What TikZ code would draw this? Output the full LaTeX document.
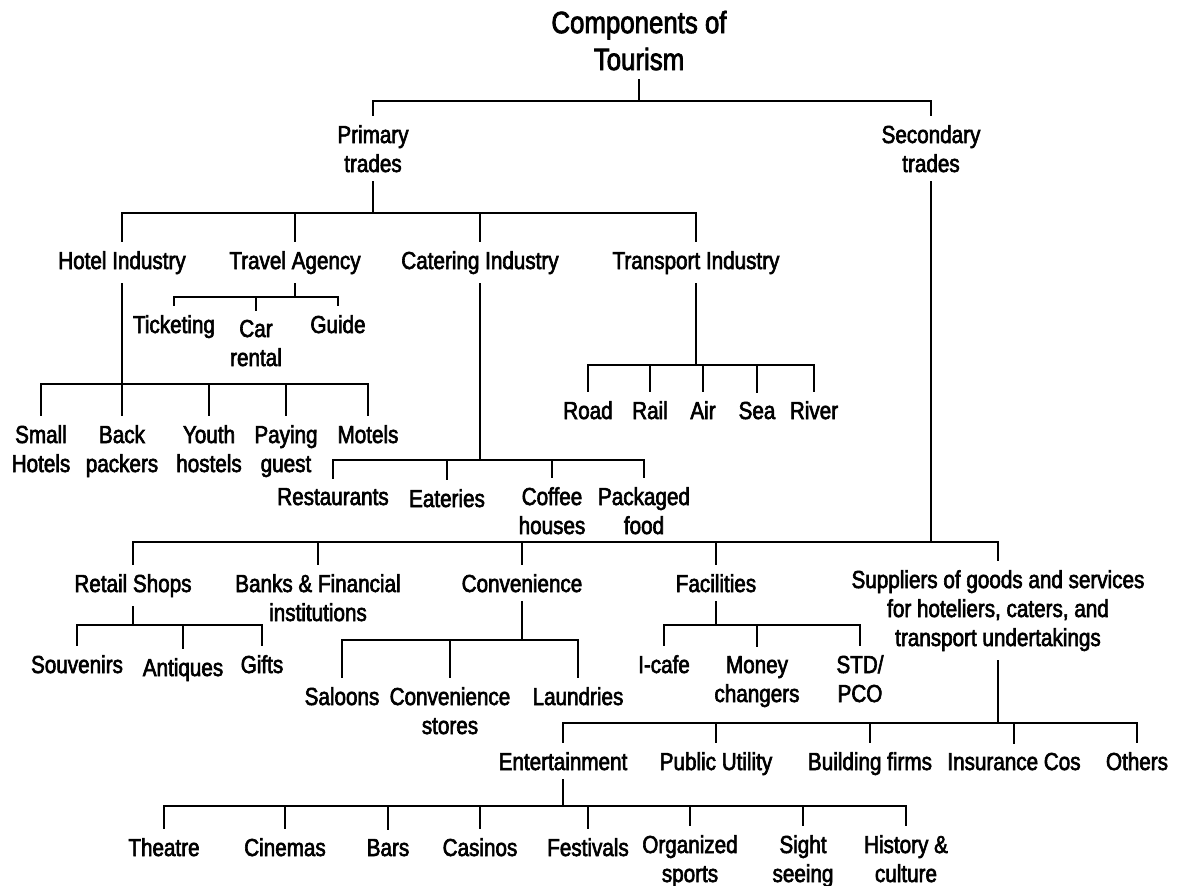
\documentclass[tikz,border=0pt]{standalone}
\usepackage{fontspec}
\setmainfont{Liberation Sans}[FakeStretch=0.84, FakeBold=2.5]
\usetikzlibrary{calc}

\tikzset{
  item/.style={anchor=base, align=center, inner xsep=1pt, inner ysep=5pt, font=\fontsize{14}{16.5}\selectfont},
  conn/.style={line width=0.7pt},
  heavyconn/.style={line width=1.2pt},
}

\begin{document}
\begin{tikzpicture}[x=0.02cm, y=-0.02cm]
\useasboundingbox (0,0) rectangle (1178,886);

% title and the two trades (y = baseline of the last line)
\node[item, font=\fontsize{17.5}{21}\selectfont] (title) at (639,70) {Components of\\Tourism};
\node[item] (prim) at (373,172) {Primary\\trades};
\node[item] (sec) at (931,172) {Secondary\\trades};

% primary trades
\node[item] (hotel) at (122,269) {Hotel Industry};
\node[item] (travel) at (295,269) {Travel Agency};
\node[item] (cater) at (480,269) {Catering Industry};
\node[item] (transport) at (696,269) {Transport Industry};

\node[item] (ticket) at (174,333) {Ticketing};
\node[item] (carrent) at (256,366) {Car\\rental};
\node[item] (guide) at (338,333) {Guide};

\node[item] (small) at (41,472) {Small\\Hotels};
\node[item] (back) at (122,472) {Back\\packers};
\node[item] (youth) at (209,472) {Youth\\hostels};
\node[item] (paying) at (286,472) {Paying\\guest};
\node[item] (motels) at (368,443) {Motels};

\node[item] (rest) at (333,505) {Restaurants};
\node[item] (eat) at (447,507) {Eateries};
\node[item] (coffee) at (552,534) {Coffee\\houses};
\node[item] (pack) at (644,534) {Packaged\\food};

\node[item] (road) at (588,419) {Road};
\node[item] (rail) at (650,419) {Rail};
\node[item] (air) at (703,419) {Air};
\node[item] (sea) at (757,419) {Sea};
\node[item] (river) at (814,419) {River};

% secondary trades
\node[item] (retail) at (133,592) {Retail Shops};
\node[item] (banks) at (318,621) {Banks \& Financial\\institutions};
\node[item] (conv) at (522,592) {Convenience};
\node[item] (facil) at (716,592) {Facilities};
\node[item] (supp) at (998,646) {Suppliers of goods and services\\for hoteliers, caters, and\\transport undertakings};

\node[item] (souv) at (77,673) {Souvenirs};
\node[item] (antiq) at (183,676) {Antiques};
\node[item] (gifts) at (262,673) {Gifts};

\node[item] (saloons) at (342,705) {Saloons};
\node[item] (convst) at (450,734) {Convenience\\stores};
\node[item] (laund) at (578,705) {Laundries};

\node[item] (icafe) at (664,673) {I-cafe};
\node[item] (money) at (757,702) {Money\\changers};
\node[item] (std) at (860,702) {STD/\\PCO};

\node[item] (ent) at (563,770) {Entertainment};
\node[item] (pubu) at (716,770) {Public Utility};
\node[item] (build) at (870,770) {Building firms};
\node[item] (insur) at (1014,770) {Insurance Cos};
\node[item] (others) at (1137,770) {Others};

\node[item] (theatre) at (164,856) {Theatre};
\node[item] (cinemas) at (285,856) {Cinemas};
\node[item] (bars) at (388,856) {Bars};
\node[item] (casinos) at (480,856) {Casinos};
\node[item] (fest) at (588,856) {Festivals};
\node[item] (orgsp) at (690,882) {Organized\\sports};
\node[item] (sight) at (803,882) {Sight\\seeing};
\node[item] (hist) at (906,882) {History \&\\culture};

% bus lines
\coordinate (titlebus) at (title.south |- 0,101);
\draw[conn] (title.south) -- (titlebus);
\foreach \c in {prim,sec} \draw[conn] (titlebus) -| (\c.north);

\coordinate (primbus) at (prim.south |- 0,213);
\draw[heavyconn] (prim.south) -- (primbus);
\foreach \c in {hotel,travel,cater,transport} \draw[conn] (primbus) -| (\c.north);

\coordinate (travelbus) at (travel.south |- 0,297);
\draw[conn] (travel.south) -- (travelbus);
\foreach \c in {ticket,carrent,guide} \draw[conn] (travelbus) -| (\c.north);

\coordinate (hotelbus) at (hotel.south |- 0,384);
\draw[conn] (hotel.south) -- (hotelbus);
\foreach \c in {small,back,youth,paying,motels} \draw[heavyconn] (hotelbus) -| (\c.north);

\coordinate (caterbus) at (cater.south |- 0,460);
\draw[heavyconn] (cater.south) -- (caterbus);
\foreach \c in {rest,eat,coffee,pack} \draw[conn] (caterbus) -| (\c.north);

\coordinate (transbus) at (transport.south |- 0,365);
\draw[conn] (transport.south) -- (transbus);
\foreach \c in {road,rail,air,sea,river} \draw[conn] (transbus) -| (\c.north);

\coordinate (secbus) at (sec.south |- 0,542);
\draw[heavyconn] (sec.south) -- (secbus);
\foreach \c in {retail,banks,conv,facil,supp} \draw[heavyconn] (secbus) -| (\c.north);

\coordinate (retailbus) at (retail.south |- 0,625);
\draw[heavyconn] (retail.south) -- (retailbus);
\foreach \c in {souv,antiq,gifts} \draw[conn] (retailbus) -| (\c.north);

\coordinate (convbus) at (conv.south |- 0,640);
\draw[heavyconn] (conv.south) -- (convbus);
\foreach \c in {saloons,convst,laund} \draw[heavyconn] (convbus) -| (\c.north);

\coordinate (facilbus) at (facil.south |- 0,625);
\draw[heavyconn] (facil.south) -- (facilbus);
\foreach \c in {icafe,money,std} \draw[conn] (facilbus) -| (\c.north);

\coordinate (suppbus) at (supp.south |- 0,723);
\draw[conn] (supp.south) -- (suppbus);
\foreach \c in {ent,pubu,build,insur,others} \draw[conn] (suppbus) -| (\c.north);

\coordinate (entbus) at (ent.south |- 0,806);
\draw[conn] (ent.south) -- (entbus);
\foreach \c in {theatre,cinemas,bars,casinos,fest,orgsp,sight,hist} \draw[heavyconn] (entbus) -| (\c.north);
\end{tikzpicture}
\end{document}
